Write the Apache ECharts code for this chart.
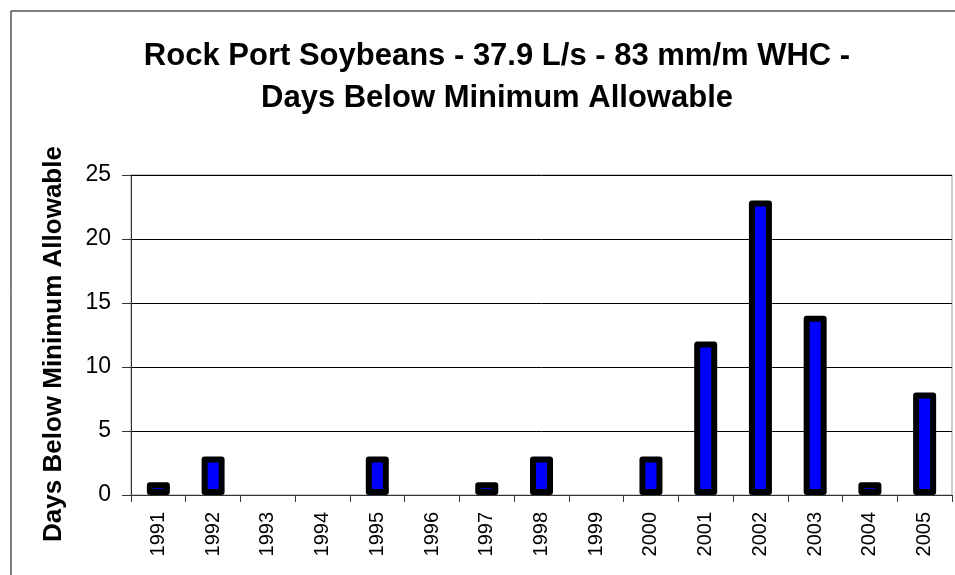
<!DOCTYPE html>
<html>
<head>
<meta charset="utf-8">
<script src="https://cdn.jsdelivr.net/npm/echarts@6/dist/echarts.min.js"></script>
<style>
html, body { margin: 0; padding: 0; background: #fff; }
#chart { width: 955px; height: 575px; }
</style>
</head>
<body>
<div id="chart"></div>
<script>
// years along the x axis
const years = ['1991', '1992', '1993', '1994', '1995', '1996', '1997', '1998', '1999', '2000', '2001', '2002', '2003', '2004', '2005'];
// days below minimum allowable
const daysBelow = [1, 3, 0, 0, 3, 0, 1, 3, 0, 3, 12, 23, 14, 1, 8];
const yTicks = [0, 5, 10, 15, 20, 25];

const font = 'Liberation Sans, Arial, sans-serif';

// zero years have no visible bar in the original, so drop the outline there
const barData = daysBelow.map(v => (v === 0 ? { value: v, itemStyle: { borderWidth: 0 } } : v));

const option = {
	animation: false,
	title: {
		text: 'Rock Port Soybeans - 37.9 L/s - 83 mm/m WHC -\nDays Below Minimum Allowable',
		left: 492,
		top: 30,
		textAlign: 'center',
		textStyle: {
			fontFamily: font,
			fontSize: 31,
			fontWeight: 'bold',
			color: '#000',
			lineHeight: 42,
		},
	},
	graphic: [
		{
			type: 'rect',
			shape: { x: 11, y: 11, width: 960, height: 580 },
			style: { fill: 'none', stroke: '#000', lineWidth: 1 },
			silent: true,
		},
	],
	grid: {
		left: 131,
		right: 3,
		top: 175,
		bottom: 80,
		show: true,
		borderColor: '#999',
		borderWidth: 1,
		backgroundColor: '#fff',
	},
	xAxis: {
		type: 'category',
		data: years,
		axisLine: { show: true, lineStyle: { color: '#333', width: 1 } },
		axisTick: { show: true, alignWithLabel: false, length: 7, lineStyle: { color: '#333' } },
		axisLabel: {
			rotate: 90,
			interval: 0,
			margin: 17,
			fontFamily: font,
			fontSize: 20,
			color: '#000',
		},
	},
	yAxis: {
		type: 'value',
		min: yTicks[0],
		max: yTicks[yTicks.length - 1],
		interval: 5,
		name: 'Days Below Minimum Allowable',
		nameLocation: 'middle',
		nameGap: 64,
		nameTextStyle: {
			fontFamily: font,
			fontSize: 26,
			fontWeight: 'bold',
			color: '#000',
			padding: [0, 18, 0, 0],
		},
		axisLine: { show: true, lineStyle: { color: '#333', width: 1 } },
		axisTick: { show: true, length: 9, lineStyle: { color: '#333' } },
		axisLabel: {
			fontFamily: font,
			fontSize: 23,
			color: '#000',
			margin: 20,
		},
		splitLine: { show: true, lineStyle: { color: '#000', width: 1 } },
	},
	series: [
		{
			type: 'bar',
			data: barData,
			barWidth: 23,
			itemStyle: {
				color: '#0000ff',
				borderColor: '#000',
				borderWidth: 6,
				borderJoin: 'round',
			},
		},
	],
};

const myEcharts = echarts.init(document.getElementById('chart'));
myEcharts.setOption(option);
</script>
</body>
</html>
